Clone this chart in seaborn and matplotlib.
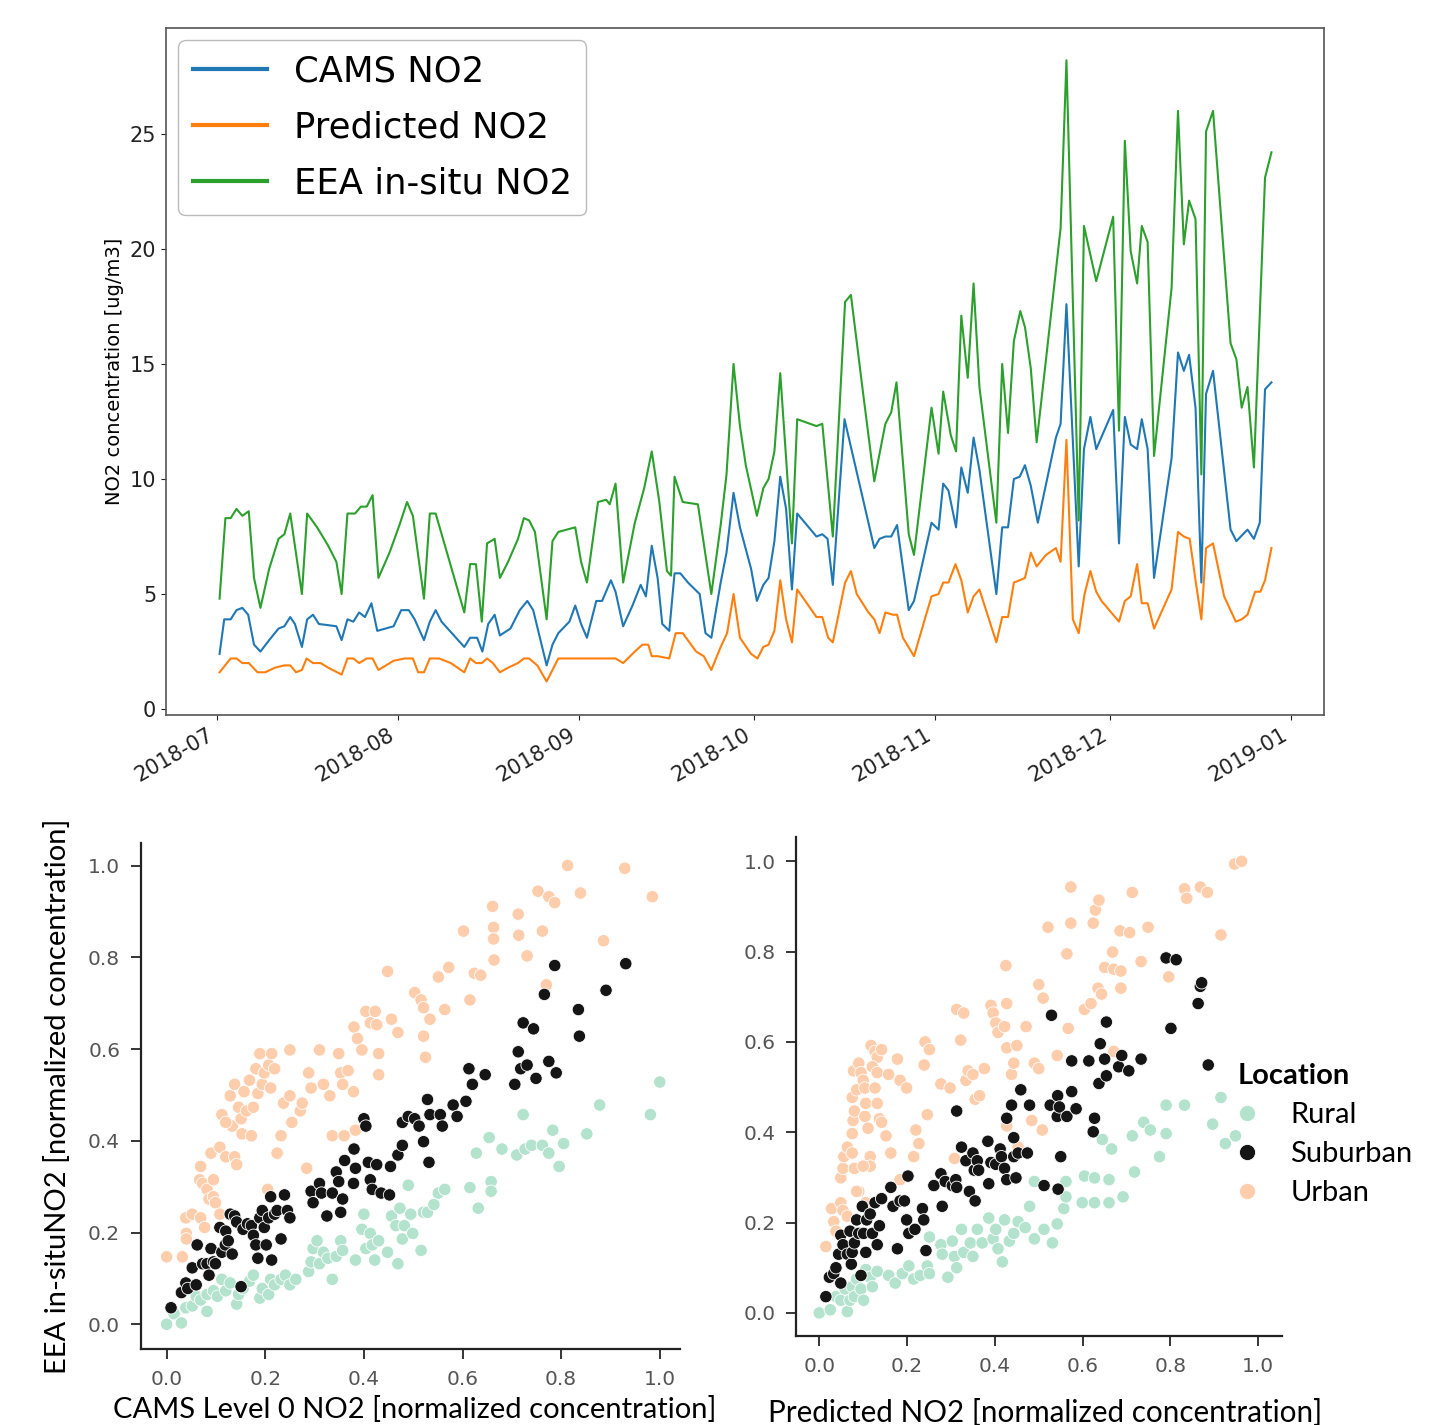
import matplotlib
matplotlib.use("Agg")
import numpy as np
import pandas as pd
import matplotlib.pyplot as plt
import matplotlib.dates as mdates
import seaborn as sns

# ---------------- time series data (days after 2018-07-01) ----------------
START_DATE = "2018-07-01"
series_names = ["CAMS NO2", "Predicted NO2", "EEA in-situ NO2"]
series_colors = ["#1f77b4", "#ff7f0e", "#2ca02c"]

cams_days = [0.5,1.3,2.4,3.4,4.4,5.4,6.4,7.5,9.0,10.6,
             11.6,12.6,13.4,14.6,15.5,16.5,17.5,20.5,21.4,22.4,
             23.4,24.4,25.4,26.5,27.5,30.3,31.6,32.9,33.9,35.5,
             36.5,37.5,38.5,42.4,43.4,44.6,45.5,46.5,47.6,48.5,
             50.3,51.9,53.2,54.2,56.5,57.5,58.5,60.4,61.4,62.4,
             63.4,65.0,66.0,67.5,68.3,69.6,71.2,72.6,73.5,74.5,
             75.5,76.3,77.5,78.4,79.4,80.7,82.7,83.7,84.7,86.3,
             87.3,88.5,89.6,91.5,92.5,93.6,94.5,95.5,96.5,97.5,
             98.5,99.4,102.7,103.7,104.6,105.5,107.5,112.6,113.5,114.5,
             115.5,116.5,118.5,119.4,122.4,123.6,124.4,125.3,126.6,127.5,
             128.6,129.6,130.6,133.5,134.5,135.5,136.5,137.5,138.4,139.4,
             140.6,143.7,144.5,145.5,147.6,148.5,149.6,150.6,153.5,154.5,
             155.5,156.5,157.6,158.4,159.4,160.5,163.5,164.6,165.6,166.5,
             167.6,168.6,169.4,170.6,173.6,174.6,176.5,177.6,178.6,179.5,
             180.6]
cams_vals = [2.4,3.9,3.9,4.3,4.4,4.1,2.8,2.5,3.0,3.5,
             3.6,4.0,3.7,2.7,3.9,4.1,3.7,3.6,3.0,3.9,
             3.8,4.2,4.0,4.6,3.4,3.6,4.3,4.3,3.9,3.0,
             3.8,4.3,3.8,2.7,3.1,3.1,2.5,3.7,4.1,3.2,
             3.5,4.3,4.7,4.3,1.9,2.8,3.3,3.8,4.5,3.7,
             3.1,4.7,4.7,5.6,5.1,3.6,4.5,5.4,4.9,7.1,
             5.7,3.7,3.4,5.9,5.9,5.5,5.0,3.3,3.1,5.5,
             6.8,9.4,7.9,6.1,4.7,5.4,5.7,7.3,10.1,8.7,
             5.2,8.5,7.5,7.6,7.4,5.4,12.6,7.0,7.4,7.5,
             7.5,8.0,4.3,4.7,8.1,7.8,9.8,9.5,7.9,10.5,
             9.4,11.8,10.4,5.0,7.9,7.9,10.0,10.1,10.6,9.7,
             8.1,11.8,12.4,17.6,6.2,11.3,12.7,11.3,13.0,7.2,
             12.7,11.5,11.3,12.6,11.3,5.7,10.9,15.5,14.7,15.4,
             13.1,5.5,13.7,14.7,7.8,7.3,7.8,7.4,8.1,13.9,
             14.2]

pred_days = [0.5,2.4,3.4,4.4,5.5,7.0,8.3,10.0,11.6,12.6,
             13.6,14.6,15.4,16.5,17.8,19.1,21.4,22.4,23.4,24.4,
             25.7,26.7,27.7,30.3,32.2,33.6,34.5,35.5,36.5,38.1,
             40.1,42.4,43.4,44.4,45.4,46.3,47.3,48.5,49.9,51.6,
             52.6,53.5,54.9,56.5,58.5,62.4,68.3,69.6,71.6,72.9,
             73.9,74.5,75.5,77.5,78.6,79.8,82.1,83.4,84.7,86.3,
             87.4,88.5,89.6,91.5,92.6,93.6,94.5,95.5,96.5,97.5,
             98.5,99.4,102.7,103.7,104.7,105.5,107.6,108.6,109.6,111.6,
             112.6,113.5,114.5,115.8,116.5,117.5,119.4,122.4,123.6,124.4,
             125.3,126.5,127.5,128.6,129.6,130.6,133.5,134.5,135.5,136.5,
             137.5,138.4,139.4,140.4,142.0,143.7,144.5,145.5,146.6,147.6,
             148.6,149.6,150.6,151.5,154.5,155.5,156.5,157.6,158.4,159.4,
             160.5,163.5,164.6,165.6,166.6,167.6,168.6,169.4,170.6,172.5,
             174.5,175.5,176.5,177.8,178.7,179.5,180.6]
pred_vals = [1.6,2.2,2.2,2.0,2.0,1.6,1.6,1.8,1.9,1.9,
             1.6,1.7,2.2,2.0,2.0,1.8,1.5,2.2,2.2,2.0,
             2.2,2.2,1.7,2.1,2.2,2.2,1.6,1.6,2.2,2.2,
             2.0,1.6,2.2,2.0,2.0,2.2,2.0,1.6,1.8,2.0,
             2.2,2.2,1.9,1.2,2.2,2.2,2.2,2.0,2.5,2.8,
             2.8,2.3,2.3,2.2,3.3,3.3,2.5,2.3,1.7,2.7,
             3.3,5.0,3.1,2.4,2.2,2.7,2.8,3.4,5.6,3.9,
             2.9,5.2,4.0,4.0,3.1,2.9,5.5,6.0,5.0,4.2,
             3.9,3.3,4.2,4.1,4.1,3.1,2.3,4.9,5.0,5.5,
             5.5,6.3,5.6,4.2,4.9,5.2,2.9,4.0,4.0,5.5,
             5.6,5.7,6.8,6.2,6.7,7.0,6.4,11.7,3.9,3.3,
             5.0,6.0,5.1,4.7,3.8,4.7,4.9,6.3,4.6,4.6,
             3.5,5.2,7.7,7.5,7.4,5.6,3.9,7.0,7.2,4.9,
             3.8,3.9,4.1,5.1,5.1,5.6,7.0]

eea_days = [0.5,1.5,2.4,3.4,4.4,5.5,6.4,7.5,9.0,10.6,
            11.6,12.6,14.6,15.5,17.2,19.1,20.5,21.4,22.4,23.7,
            24.7,25.7,26.7,27.7,29.6,31.3,32.6,33.6,35.5,36.5,
            37.5,42.4,43.4,44.4,45.4,46.3,47.6,48.5,49.9,51.6,
            52.6,53.5,54.5,56.5,57.5,58.5,61.4,62.4,63.4,65.3,
            66.7,67.3,68.3,69.6,71.6,73.2,74.5,75.8,77.1,77.8,
            78.4,79.8,82.4,84.7,86.3,87.3,88.5,89.6,90.6,92.5,
            93.6,94.5,95.5,96.5,98.5,99.4,102.7,103.7,105.5,107.6,
            108.6,110.6,112.6,113.5,114.5,115.5,116.4,118.5,119.4,122.4,
            123.6,124.4,125.7,126.6,127.5,128.6,129.6,130.6,133.5,134.5,
            135.5,136.5,137.6,138.4,139.4,140.4,142.0,143.7,144.5,145.5,
            147.6,148.5,150.6,153.5,154.5,155.5,156.5,157.6,158.4,159.4,
            160.5,163.5,164.6,165.6,166.5,167.6,168.6,169.4,170.6,173.6,
            174.6,175.5,176.5,177.6,179.5,180.6]
eea_vals = [4.8,8.3,8.3,8.7,8.4,8.6,5.7,4.4,6.1,7.4,
            7.6,8.5,5.0,8.5,7.9,7.1,6.4,5.0,8.5,8.5,
            8.8,8.8,9.3,5.7,6.8,8.0,9.0,8.4,4.8,8.5,
            8.5,4.2,6.3,6.3,3.8,7.2,7.4,5.7,6.4,7.4,
            8.3,8.2,7.7,3.9,7.3,7.7,7.9,6.4,5.5,9.0,
            9.1,8.9,9.8,5.5,8.1,9.6,11.2,9.0,6.0,5.8,
            10.1,9.0,8.9,5.0,8.0,10.2,15.0,12.3,10.6,8.4,
            9.6,10.0,11.2,14.6,7.2,12.6,12.3,12.4,7.5,17.7,
            18.0,13.9,9.9,11.1,12.4,12.9,14.2,7.6,6.7,13.1,
            11.1,13.8,11.9,11.2,17.1,14.4,18.5,14.0,8.1,15.0,
            12.0,16.0,17.3,16.6,14.8,11.6,15.2,19.1,20.9,28.2,
            8.2,21.0,18.6,21.4,12.1,24.7,19.9,18.5,21.0,20.3,
            11.0,18.3,26.0,20.2,22.1,21.3,10.2,25.1,26.0,15.9,
            15.2,13.1,14.0,10.5,23.1,24.2]

# ---------------- scatter data ----------------
locations = ["Rural", "Suburban", "Urban"]
location_colors = ["#b3e2cd", "#151515", "#fdcdac"]

cams_urban_x = [0.000,0.032,0.039,0.040,0.040,0.052,0.069,0.077,0.069,0.067,
                0.073,0.082,0.086,0.090,0.095,0.095,0.099,0.108,0.112,0.120,
                0.108,0.133,0.138,0.142,0.120,0.129,0.138,0.146,0.151,0.153,
                0.157,0.162,0.168,0.172,0.176,0.181,0.185,0.189,0.194,0.198,
                0.207,0.211,0.219,0.213,0.205,0.224,0.232,0.237,0.250,0.250,
                0.254,0.271,0.275,0.284,0.288,0.293,0.310,0.318,0.331,0.336,
                0.349,0.353,0.357,0.360,0.368,0.379,0.383,0.380,0.387,0.396,
                0.404,0.413,0.423,0.426,0.430,0.430,0.448,0.456,0.469,0.503,
                0.516,0.521,0.521,0.525,0.534,0.551,0.564,0.572,0.602,0.615,
                0.624,0.637,0.661,0.663,0.663,0.664,0.713,0.714,0.731,0.753,
                0.766,0.770,0.775,0.787,0.762,0.813,0.839,0.886,0.929,0.985]
cams_urban_y = [0.147,0.147,0.232,0.198,0.186,0.240,0.232,0.211,0.344,0.315,
                0.307,0.294,0.273,0.373,0.315,0.278,0.265,0.386,0.457,0.365,
                0.240,0.432,0.365,0.348,0.440,0.498,0.523,0.473,0.448,0.415,
                0.507,0.465,0.532,0.411,0.473,0.557,0.503,0.590,0.523,0.548,
                0.565,0.515,0.557,0.590,0.294,0.373,0.411,0.482,0.498,0.598,
                0.440,0.465,0.482,0.340,0.548,0.515,0.598,0.523,0.498,0.411,
                0.590,0.548,0.523,0.411,0.553,0.507,0.423,0.648,0.623,0.598,
                0.682,0.657,0.682,0.653,0.590,0.544,0.769,0.665,0.636,0.723,
                0.707,0.690,0.628,0.582,0.665,0.757,0.686,0.778,0.857,0.707,
                0.765,0.761,0.911,0.865,0.840,0.794,0.894,0.848,0.803,0.944,
                0.719,0.740,0.932,0.919,0.857,1.000,0.940,0.836,0.994,0.932]

cams_suburban_x = [0.009,0.030,0.039,0.043,0.052,0.060,0.062,0.073,0.082,0.086,
                   0.090,0.095,0.099,0.108,0.112,0.119,0.120,0.125,0.129,0.133,
                   0.138,0.142,0.151,0.155,0.164,0.172,0.176,0.181,0.185,0.189,
                   0.194,0.198,0.202,0.207,0.211,0.213,0.219,0.224,0.232,0.239,
                   0.245,0.250,0.293,0.297,0.310,0.314,0.325,0.336,0.344,0.349,
                   0.353,0.357,0.361,0.379,0.383,0.380,0.400,0.404,0.409,0.413,
                   0.417,0.426,0.435,0.452,0.454,0.469,0.478,0.478,0.490,0.503,
                   0.512,0.521,0.529,0.532,0.534,0.555,0.559,0.581,0.589,0.607,
                   0.613,0.620,0.646,0.706,0.713,0.718,0.723,0.731,0.744,0.749,
                   0.766,0.775,0.787,0.790,0.835,0.837,0.891,0.931]
cams_suburban_y = [0.036,0.069,0.090,0.078,0.123,0.086,0.173,0.132,0.132,0.107,
                   0.165,0.136,0.132,0.211,0.157,0.173,0.203,0.182,0.240,0.153,
                   0.236,0.223,0.082,0.207,0.219,0.215,0.194,0.173,0.144,0.232,
                   0.248,0.211,0.173,0.232,0.278,0.140,0.240,0.248,0.186,0.282,
                   0.248,0.232,0.290,0.265,0.307,0.286,0.236,0.286,0.332,0.311,
                   0.244,0.273,0.357,0.307,0.340,0.382,0.448,0.432,0.353,0.315,
                   0.294,0.348,0.286,0.282,0.344,0.369,0.390,0.440,0.453,0.448,
                   0.432,0.398,0.490,0.353,0.457,0.457,0.432,0.478,0.453,0.486,
                   0.557,0.523,0.544,0.523,0.594,0.557,0.657,0.565,0.644,0.536,
                   0.719,0.573,0.782,0.548,0.686,0.628,0.728,0.786]

cams_rural_x = [0.000,0.015,0.030,0.039,0.052,0.060,0.069,0.082,0.082,0.095,
                0.103,0.112,0.120,0.129,0.142,0.146,0.155,0.168,0.176,0.189,
                0.194,0.207,0.211,0.219,0.232,0.241,0.250,0.262,0.288,0.293,
                0.297,0.305,0.310,0.318,0.327,0.336,0.344,0.353,0.357,0.383,
                0.396,0.400,0.404,0.413,0.417,0.422,0.430,0.448,0.456,0.465,
                0.469,0.473,0.478,0.482,0.490,0.495,0.499,0.516,0.521,0.529,
                0.542,0.551,0.564,0.615,0.628,0.632,0.654,0.658,0.658,0.680,
                0.710,0.723,0.727,0.740,0.762,0.775,0.783,0.796,0.805,0.852,
                0.878,0.981,1.000]
cams_rural_y = [0.000,0.023,0.003,0.036,0.040,0.061,0.053,0.028,0.065,0.073,
                0.061,0.098,0.073,0.090,0.044,0.065,0.078,0.094,0.107,0.057,
                0.078,0.065,0.098,0.086,0.098,0.107,0.086,0.098,0.115,0.136,
                0.165,0.182,0.132,0.157,0.144,0.098,0.148,0.182,0.161,0.140,
                0.207,0.240,0.165,0.198,0.173,0.140,0.182,0.157,0.236,0.215,
                0.132,0.253,0.186,0.215,0.303,0.240,0.198,0.161,0.244,0.244,
                0.261,0.286,0.294,0.298,0.373,0.253,0.407,0.311,0.290,0.382,
                0.369,0.457,0.382,0.390,0.390,0.373,0.423,0.344,0.394,0.415,
                0.478,0.457,0.528]

pred_urban_x = [0.015,0.028,0.033,0.038,0.049,0.054,0.059,0.064,0.049,0.054,
                0.056,0.064,0.075,0.080,0.075,0.077,0.080,0.075,0.085,0.078,
                0.090,0.095,0.100,0.104,0.106,0.104,0.111,0.090,0.085,0.116,
                0.116,0.100,0.106,0.118,0.127,0.132,0.121,0.132,0.142,0.127,
                0.132,0.137,0.142,0.152,0.158,0.163,0.178,0.184,0.184,0.199,
                0.215,0.220,0.227,0.239,0.241,0.251,0.246,0.277,0.298,0.308,
                0.313,0.329,0.322,0.334,0.339,0.350,0.355,0.365,0.376,0.391,
                0.396,0.402,0.407,0.422,0.427,0.425,0.427,0.438,0.443,0.450,
                0.453,0.427,0.471,0.484,0.490,0.500,0.500,0.510,0.508,0.521,
                0.542,0.564,0.567,0.573,0.573,0.604,0.619,0.624,0.629,0.637,
                0.635,0.643,0.650,0.668,0.671,0.671,0.685,0.687,0.687,0.707,
                0.713,0.733,0.749,0.796,0.832,0.837,0.868,0.884,0.915,0.946,
                0.962]
pred_urban_y = [0.147,0.231,0.202,0.181,0.244,0.227,0.147,0.214,0.299,0.320,
                0.346,0.367,0.354,0.320,0.397,0.426,0.447,0.477,0.494,0.536,
                0.553,0.532,0.515,0.498,0.464,0.435,0.409,0.269,0.269,0.346,
                0.325,0.325,0.244,0.592,0.579,0.566,0.545,0.532,0.583,0.498,
                0.464,0.430,0.422,0.392,0.528,0.354,0.562,0.515,0.295,0.498,
                0.346,0.405,0.375,0.549,0.600,0.583,0.439,0.507,0.498,0.342,
                0.672,0.664,0.604,0.515,0.536,0.528,0.473,0.481,0.541,0.681,
                0.664,0.642,0.621,0.634,0.685,0.769,0.587,0.528,0.553,0.592,
                0.367,0.414,0.634,0.426,0.553,0.541,0.727,0.697,0.405,0.854,
                0.570,0.795,0.630,0.863,0.943,0.672,0.685,0.863,0.892,0.914,
                0.719,0.706,0.765,0.799,0.761,0.579,0.846,0.757,0.719,0.842,
                0.931,0.778,0.854,0.744,0.939,0.918,0.943,0.931,0.837,0.994,
                1.000]

pred_suburban_x = [0.015,0.023,0.033,0.038,0.049,0.044,0.049,0.054,0.064,0.070,
                   0.073,0.075,0.080,0.085,0.090,0.095,0.098,0.101,0.106,0.108,
                   0.116,0.121,0.127,0.132,0.137,0.142,0.163,0.168,0.178,0.184,
                   0.194,0.199,0.202,0.204,0.218,0.235,0.238,0.243,0.261,0.277,
                   0.280,0.287,0.303,0.311,0.313,0.313,0.324,0.334,0.342,0.350,
                   0.353,0.355,0.360,0.363,0.384,0.386,0.391,0.402,0.412,0.415,
                   0.422,0.427,0.427,0.438,0.443,0.443,0.448,0.453,0.459,0.474,
                   0.479,0.512,0.526,0.529,0.542,0.543,0.547,0.550,0.544,0.564,
                   0.575,0.575,0.585,0.614,0.624,0.627,0.637,0.640,0.650,0.654,
                   0.654,0.682,0.689,0.705,0.733,0.790,0.801,0.813,0.863,0.868,
                   0.871,0.886]
pred_suburban_y = [0.036,0.079,0.087,0.100,0.066,0.130,0.172,0.151,0.130,0.181,
                   0.108,0.134,0.155,0.206,0.176,0.083,0.236,0.176,0.134,0.206,
                   0.219,0.176,0.244,0.151,0.193,0.253,0.278,0.236,0.142,0.248,
                   0.248,0.206,0.303,0.176,0.185,0.231,0.206,0.138,0.282,0.308,
                   0.236,0.291,0.282,0.295,0.278,0.447,0.367,0.337,0.269,0.354,
                   0.316,0.248,0.337,0.316,0.380,0.286,0.333,0.329,0.363,0.346,
                   0.320,0.431,0.295,0.460,0.388,0.346,0.299,0.354,0.494,0.354,
                   0.460,0.282,0.460,0.659,0.435,0.481,0.456,0.346,0.274,0.435,
                   0.490,0.558,0.452,0.558,0.401,0.431,0.508,0.596,0.562,0.525,
                   0.644,0.545,0.570,0.536,0.562,0.786,0.630,0.782,0.685,0.723,
                   0.731,0.549]

pred_rural_x = [0.000,0.025,0.038,0.049,0.064,0.059,0.070,0.075,0.080,0.085,
                0.095,0.101,0.106,0.116,0.121,0.132,0.158,0.173,0.189,0.204,
                0.215,0.230,0.246,0.251,0.251,0.277,0.280,0.293,0.303,0.308,
                0.313,0.324,0.329,0.344,0.350,0.360,0.371,0.386,0.396,0.402,
                0.407,0.417,0.422,0.433,0.443,0.453,0.469,0.479,0.490,0.490,
                0.512,0.531,0.542,0.557,0.562,0.562,0.599,0.604,0.627,0.627,
                0.645,0.660,0.660,0.666,0.692,0.713,0.718,0.739,0.754,0.775,
                0.790,0.790,0.832,0.896,0.915,0.925,0.948]
pred_rural_y = [0.000,0.007,0.036,0.028,0.003,0.053,0.028,0.058,0.036,0.075,
                0.053,0.028,0.096,0.079,0.058,0.092,0.083,0.066,0.087,0.104,
                0.075,0.083,0.104,0.087,0.168,0.151,0.130,0.079,0.159,0.125,
                0.100,0.185,0.134,0.155,0.125,0.185,0.155,0.210,0.164,0.185,
                0.142,0.113,0.206,0.159,0.176,0.202,0.189,0.236,0.164,0.291,
                0.185,0.155,0.197,0.231,0.291,0.257,0.244,0.303,0.244,0.299,
                0.384,0.244,0.295,0.363,0.257,0.392,0.312,0.422,0.405,0.346,
                0.397,0.460,0.460,0.418,0.477,0.375,0.392]


def series_frame(days, vals, name):
    dates = pd.Timestamp(START_DATE) + pd.to_timedelta(days, unit="D")
    return pd.DataFrame({"date": dates, "value": vals, "series": name})


def scatter_frame(groups):
    frames = []
    for loc, xs, ys in groups:
        frames.append(pd.DataFrame({"x": xs, "y": ys, "Location": loc}))
    return pd.concat(frames, ignore_index=True)


ts = pd.concat([series_frame(cams_days, cams_vals, series_names[0]),
                series_frame(pred_days, pred_vals, series_names[1]),
                series_frame(eea_days, eea_vals, series_names[2])],
               ignore_index=True)

left_df = scatter_frame([("Rural", cams_rural_x, cams_rural_y),
                         ("Urban", cams_urban_x, cams_urban_y),
                         ("Suburban", cams_suburban_x, cams_suburban_y)])
right_df = scatter_frame([("Rural", pred_rural_x, pred_rural_y),
                          ("Urban", pred_urban_x, pred_urban_y),
                          ("Suburban", pred_suburban_x, pred_suburban_y)])
loc_palette = dict(zip(locations, location_colors))

# ---------------- figure ----------------
fig = plt.figure(figsize=(14.34, 14.25), dpi=100)

# top time series panel (plain matplotlib look)
ax1 = fig.add_axes([0.1158, 0.4982, 0.8075, 0.4821])
sns.lineplot(data=ts, x="date", y="value", hue="series", hue_order=series_names,
             palette=series_colors, estimator=None, linewidth=1.5, ax=ax1)
base = pd.Timestamp(START_DATE)
ax1.set_xlim(base + pd.Timedelta(days=-8.66), base + pd.Timedelta(days=189.6))
ax1.set_ylim(-0.26, 29.6)
ax1.set_yticks([0, 5, 10, 15, 20, 25])
ax1.xaxis.set_major_locator(mdates.MonthLocator())
ax1.xaxis.set_major_formatter(mdates.DateFormatter("%Y-%m"))
ax1.tick_params(labelsize=15, colors="#222222")
for lab in ax1.get_xticklabels():
    lab.set_rotation(30)
    lab.set_ha("right")
for sp in ax1.spines.values():
    sp.set_edgecolor("#555555")
    sp.set_linewidth(1.2)
ax1.set_xlabel("")
ax1.set_ylabel("NO2 concentration [ug/m3]", fontsize=14)
leg1 = ax1.legend(loc="upper left", fontsize=25.5, handlelength=2.1,
                  handletextpad=0.75, labelspacing=0.62, borderpad=0.4,
                  borderaxespad=0.35, framealpha=1, edgecolor="#bbbbbb")
for h in leg1.get_lines():
    h.set_linewidth(3)

# bottom scatter panels (seaborn ticks style)
with sns.axes_style("ticks"):
    ax2 = fig.add_axes([0.0983, 0.0533, 0.3759, 0.3551])
    ax3 = fig.add_axes([0.5554, 0.0625, 0.3386, 0.3502])

sns.scatterplot(data=left_df, x="x", y="y", hue="Location", hue_order=locations,
                palette=loc_palette, s=80, edgecolor="white", linewidth=0.6,
                ax=ax2, legend=False)
sns.scatterplot(data=right_df, x="x", y="y", hue="Location", hue_order=locations,
                palette=loc_palette, s=80, edgecolor="white", linewidth=0.6,
                ax=ax3, legend=True)

ticks = [0.0, 0.2, 0.4, 0.6, 0.8, 1.0]
for ax, xl, yl in [(ax2, (-0.052, 1.041), (-0.054, 1.049)),
                   (ax3, (-0.052, 1.054), (-0.051, 1.054))]:
    ax.set_xlim(*xl)
    ax.set_ylim(*yl)
    ax.set_xticks(ticks)
    ax.set_yticks(ticks)
    ax.set_xlabel("")
    ax.set_ylabel("")
    ax.tick_params(labelsize=14.5, labelcolor="#555555", length=7, width=1.3, pad=8)
    for sp in ax.spines.values():
        sp.set_linewidth(1.6)
        sp.set_edgecolor("#222222")
    sns.despine(ax=ax)

calibri_like = ["Lato", "DejaVu Sans"]
fig.text(415 / 1434, 1 - 1410 / 1425, "CAMS Level 0 NO2 [normalized concentration]",
         ha="center", va="center", fontsize=21, family=calibri_like)
fig.text(1045 / 1434, 1 - 1413 / 1425, "Predicted NO2 [normalized concentration]",
         ha="center", va="center", fontsize=21.3, family=calibri_like)
fig.text(58 / 1434, 1 - 1096 / 1425, "EEA in-situNO2 [normalized concentration]",
         ha="center", va="center", rotation=90, fontsize=21, family=calibri_like)

sns.move_legend(ax3, loc="upper left", bbox_to_anchor=(0.855, 0.60), frameon=False,
                title="Location", handlelength=0.6, handletextpad=1.2,
                labelspacing=0.45, alignment="left", markerscale=1.3,
                prop={"family": calibri_like, "size": 21})
leg3 = ax3.get_legend()
leg3.get_title().set_fontweight("bold")
leg3.get_title().set_family(calibri_like)
leg3.get_title().set_fontsize(21)

fig.savefig("out.png", dpi=100)
